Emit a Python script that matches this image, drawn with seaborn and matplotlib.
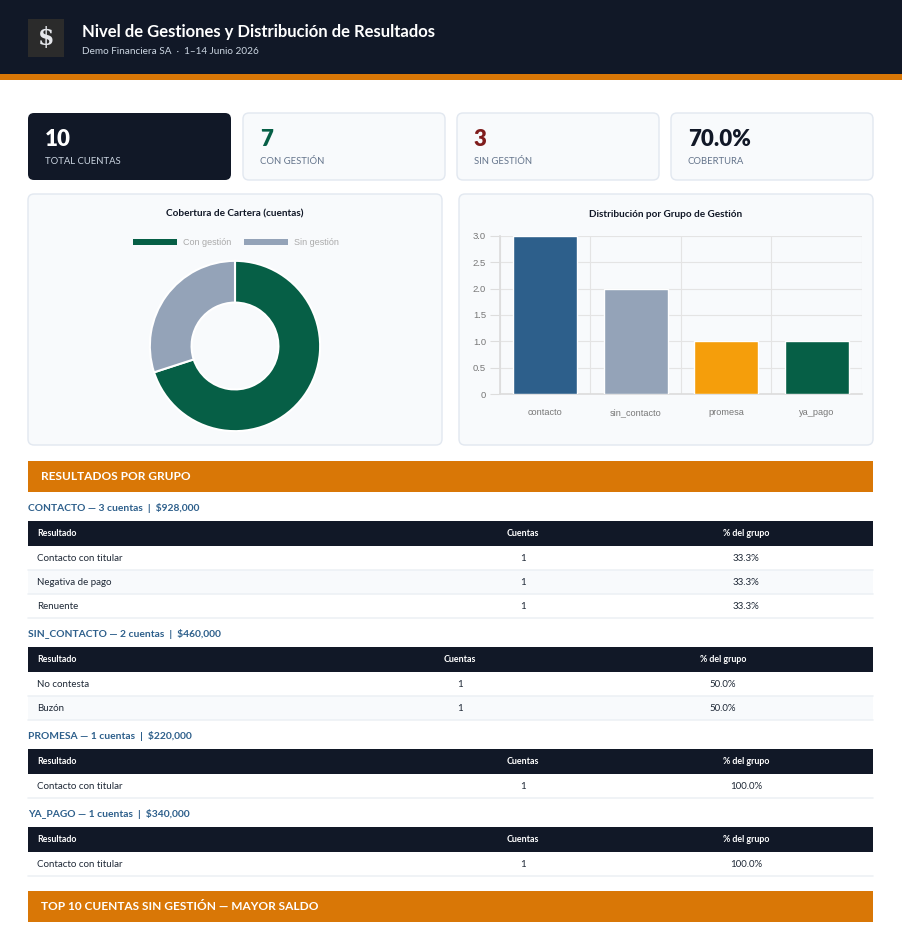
import matplotlib
matplotlib.use("Agg")
import matplotlib.pyplot as plt
import seaborn as sns
from matplotlib.patches import Rectangle, FancyBboxPatch
from matplotlib.ticker import FuncFormatter

# ---- data ----
TITLE = "Nivel de Gestiones y Distribución de Resultados"
SUBTITLE = "Demo Financiera SA  ·  1–14 Junio 2026"

kpi_values = ["10", "7", "3", "70.0%"]
kpi_labels = ["TOTAL CUENTAS", "CON GESTIÓN", "SIN GESTIÓN", "COBERTURA"]

coverage_labels = ["Con gestión", "Sin gestión"]
coverage_values = [7, 3]

groups = ["contacto", "sin_contacto", "promesa", "ya_pago"]
group_counts = [3, 2, 1, 1]
group_amounts = [928000, 460000, 220000, 340000]

res_contacto = ["Contacto con titular", "Negativa de pago", "Renuente"]
cnt_contacto = [1, 1, 1]
res_sin_contacto = ["No contesta", "Buzón"]
cnt_sin_contacto = [1, 1]
res_promesa = ["Contacto con titular"]
cnt_promesa = [1]
res_ya_pago = ["Contacto con titular"]
cnt_ya_pago = [1]

# ---- colours ----
NAVY = "#111827"
ORANGE = "#d97706"
GREEN = "#065f46"
GRAY = "#94a3b8"
BLUE = "#2d5f8b"
AMBER = "#f59e0b"
RED = "#7f1d1d"
CARD = "#f8fafc"
BORDER = "#e2e8f0"
bar_colors = [BLUE, GRAY, AMBER, GREEN]

W, H = 903, 930
sns.set_theme(style="white")
plt.rcParams["font.family"] = ["Lato", "DejaVu Sans"]

fig = plt.figure(figsize=(W / 100, H / 100), dpi=100)
fig.patch.set_facecolor("white")
bg = fig.add_axes([0, 0, 1, 1], zorder=0)
bg.set_xlim(0, W)
bg.set_ylim(H, 0)
bg.axis("off")


def px_axes(x, y, w, h, z=2):
    a = fig.add_axes([x / W, 1 - (y + h) / H, w / W, h / H], zorder=z)
    a.patch.set_alpha(0)
    return a


def rbox(x, y, w, h, fc, ec="none", r=6, lw=1):
    bg.add_patch(FancyBboxPatch((x, y), w, h, boxstyle=f"round,pad=0,rounding_size={r}",
                                fc=fc, ec=ec, lw=lw))


# header
bg.add_patch(Rectangle((0, 0), W, 74, fc=NAVY, ec="none"))
bg.add_patch(Rectangle((0, 74), W, 6, fc=ORANGE, ec="none"))
bg.add_patch(Rectangle((28, 19), 36, 38, fc="#2b2b2b", ec="none"))
bg.text(46, 38, "$", color="#e5e7eb", fontsize=17, fontweight="bold",
        family="DejaVu Serif", ha="center", va="center")
bg.text(82, 32, TITLE, color="white", fontsize=12, fontweight="bold", va="center")
bg.text(82, 52, SUBTITLE, color="#cbd5e1", fontsize=7.2, va="center")

# KPI cards
card_x = [28, 243, 457, 671]
num_colors = ["white", GREEN, RED, NAVY]
for i, (v, lab) in enumerate(zip(kpi_values, kpi_labels)):
    x = card_x[i]
    if i == 0:
        rbox(x, 113, 203, 67, NAVY)
        lab_color = "#cbd5e1"
    else:
        rbox(x, 113, 202, 67, CARD, BORDER)
        lab_color = "#64748b"
    bg.text(x + 17, 140, v, color=num_colors[i], fontsize=16, fontweight="heavy", va="center")
    bg.text(x + 17, 161, lab, color=lab_color, fontsize=6.8, va="center")

# chart panels
rbox(28, 194, 414, 251, CARD, BORDER)
rbox(459, 194, 414, 251, CARD, BORDER)
bg.text(235, 214, "Cobertura de Cartera (cuentas)", color=NAVY, fontsize=7.2,
        fontweight="bold", ha="center", va="center")
bg.text(666, 214, "Distribución por Grupo de Gestión", color=NAVY, fontsize=7.2,
        fontweight="bold", ha="center", va="center")

# donut legend
leg_x = [133, 244]
for lx, lab, col in zip(leg_x, coverage_labels, [GREEN, GRAY]):
    bg.add_patch(Rectangle((lx, 239), 44, 6, fc=col, ec="none"))
    bg.text(lx + 50, 242, lab, color="#aaaaaa", fontsize=6.5,
            family="Liberation Sans", va="center")

# donut
ax_d = px_axes(149, 260, 172, 172)
ax_d.pie(coverage_values, colors=[GREEN, GRAY], startangle=90, counterclock=False,
         radius=1, wedgeprops=dict(width=0.49, edgecolor="white", linewidth=1.5))
ax_d.set_xlim(-1.01, 1.01)
ax_d.set_ylim(-1.01, 1.01)
ax_d.set_aspect("equal")
ax_d.axis("off")

# bar chart
ax_b = px_axes(500, 236, 362, 158)
sns.barplot(x=groups, y=group_counts, hue=groups, palette=bar_colors, legend=False,
            width=0.71, saturation=1, ax=ax_b, zorder=3)
ax_b.set_ylim(0, 3)
ax_b.set_xlim(-0.5, 3.5)
ax_b.set_yticks([0, 0.5, 1.0, 1.5, 2.0, 2.5, 3.0])
ax_b.yaxis.set_major_formatter(FuncFormatter(lambda v, p: "0" if v == 0 else f"{v:.1f}"))
ax_b.set_xticks(range(len(groups)))
ax_b.set_xticklabels([])
ax_b.set_xticks([-0.5, 0.5, 1.5, 2.5, 3.5], minor=True)
ax_b.grid(axis="y", color="#e4e4e4", linewidth=0.8, zorder=0)
ax_b.grid(axis="x", which="minor", color="#e4e4e4", linewidth=0.8, zorder=0)
ax_b.grid(axis="x", which="major", visible=False)
ax_b.set_axisbelow(True)
for s in ["top", "right"]:
    ax_b.spines[s].set_visible(False)
ax_b.spines["left"].set_color("#dddddd")
ax_b.spines["bottom"].set_color("#dddddd")
ax_b.tick_params(axis="x", which="major", length=0)
ax_b.tick_params(axis="x", which="minor", length=9, color="#dddddd", width=0.8)
ax_b.tick_params(axis="y", length=7, color="#dddddd", width=0.8, pad=3,
                 labelsize=6.8, labelcolor="#777777", left=True)
for t in ax_b.get_yticklabels():
    t.set_family("Liberation Sans")
# category labels on a common baseline
for i, g in enumerate(groups):
    ax_b.text(i, -21 / 158, g, transform=ax_b.get_xaxis_transform(), ha="center",
              va="baseline", fontsize=6.6, color="#777777", family="Liberation Sans")
ax_b.set_xlabel("")
ax_b.set_ylabel("")


# section header
def section(y, text):
    bg.add_patch(Rectangle((28, y), 845, 31, fc=ORANGE, ec="none"))
    bg.text(41, y + 15.5, text, color="white", fontsize=8.6, fontweight="bold", va="center")


section(461, "RESULTADOS POR GRUPO")

tables = [
    (res_contacto, cnt_contacto, 508, 523, 746),
    (res_sin_contacto, cnt_sin_contacto, 634, 460, 723),
    (res_promesa, cnt_promesa, 736, 523, 746),
    (res_ya_pago, cnt_ya_pago, 814, 523, 746),
]
for gi, (names, counts, ly, cx, px) in enumerate(tables):
    total = sum(counts)
    bg.text(28, ly, f"{groups[gi].upper()} — {group_counts[gi]} cuentas  |  ${group_amounts[gi]:,}",
            color=BLUE, fontsize=7.4, fontweight="bold", va="center")
    hy = ly + 13
    bg.add_patch(Rectangle((28, hy), 845, 25, fc=NAVY, ec="none"))
    bg.text(37, hy + 12.5, "Resultado", color="white", fontsize=6.4, fontweight="bold", va="center")
    bg.text(cx, hy + 12.5, "Cuentas", color="white", fontsize=6.4, fontweight="bold",
            ha="center", va="center")
    bg.text(px, hy + 12.5, "% del grupo", color="white", fontsize=6.4, fontweight="bold",
            ha="center", va="center")
    ry = hy + 25
    for ri, (n, c) in enumerate(zip(names, counts)):
        if ri % 2 == 1:
            bg.add_patch(Rectangle((28, ry), 845, 24, fc=CARD, ec="none"))
        bg.plot([28, 873], [ry + 23.5, ry + 23.5], color="#edf1f5", lw=1.2)
        bg.text(37, ry + 12, n, color="#1f2937", fontsize=7, va="center")
        bg.text(cx, ry + 12, str(c), color="#1f2937", fontsize=7, ha="center", va="center")
        bg.text(px, ry + 12, f"{100 * c / total:.1f}%", color="#1f2937", fontsize=7,
                ha="center", va="center")
        ry += 24

section(891, "TOP 10 CUENTAS SIN GESTIÓN — MAYOR SALDO")

fig.savefig("out.png", dpi=100, facecolor="white")
